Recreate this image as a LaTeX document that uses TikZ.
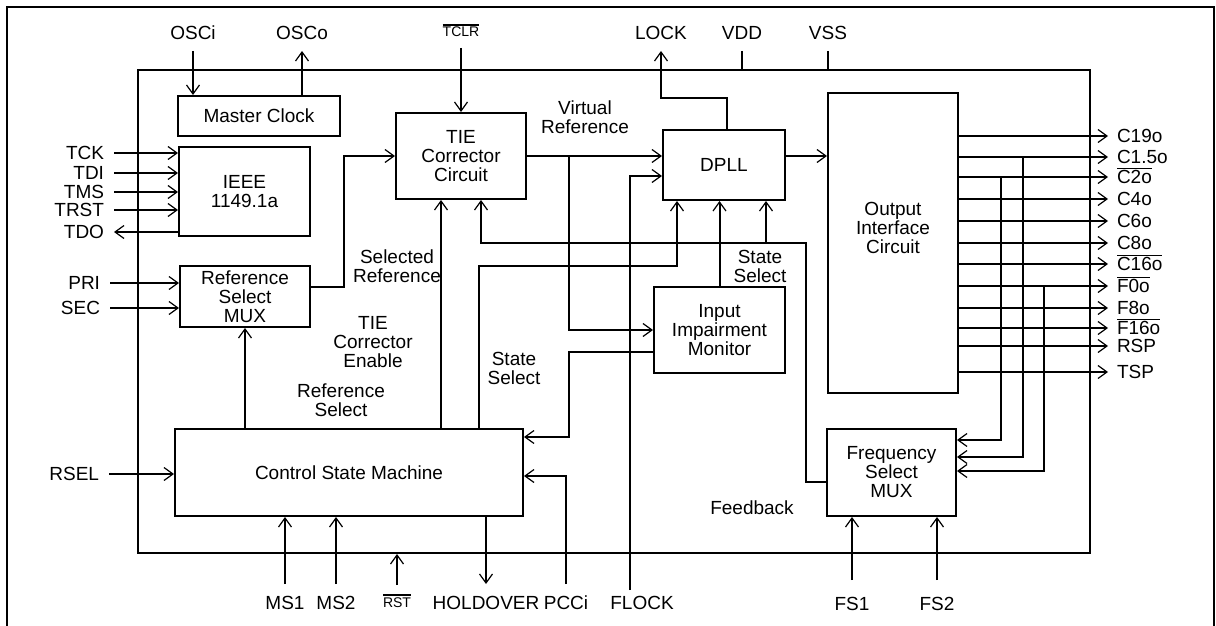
\documentclass[tikz,border=0pt]{standalone}
\usepackage{fontspec}
\setmainfont{Liberation Sans}
\usepackage{tikz}
\usetikzlibrary{arrows.meta}
\newcommand{\nbar}[1]{\leavevmode\vbox{\hrule height 1.6pt\kern1.4pt\hbox{#1}}}

\begin{document}
\begin{tikzpicture}[x=1pt,y=-1pt,
    font=\fontsize{19pt}{19pt}\selectfont,
    box/.style={draw=black,line width=2pt,align=center,inner sep=2pt},
    wire/.style={line width=2pt},
    sig/.style={line width=2pt,-{Straight Barb[length=9pt,width=13pt,line width=1.2pt]}},
    pinl/.style={anchor=east,inner sep=0pt,outer xsep=10pt,text height=13.6pt,text depth=0pt},
    pinr/.style={anchor=west,inner sep=0pt,outer xsep=9pt,text height=13.6pt,text depth=0pt},
    pint/.style={anchor=south,inner sep=0pt,outer ysep=11pt,text height=13.6pt,text depth=0pt},
    pinb/.style={anchor=north,inner sep=0pt,outer ysep=12pt,text height=13.6pt,text depth=0pt},
    small/.style={font=\fontsize{14pt}{14pt}\selectfont,text height=10pt},
    note/.style={align=center,inner sep=0pt}]
        \useasboundingbox (0,0) rectangle (1216,626);
        \draw[wire] (7,630) -- (7,7) -- (1214,7) -- (1214,630);

        \node[box,minimum width=952,minimum height=483] (chip) at (614,311.5) {};
        \node[box,minimum width=162,minimum height=40] (clk)  at (259,116)   {Master Clock};
        \node[box,minimum width=131,minimum height=89] (ieee) at (244.5,191.5) {IEEE\\1149.1a};
        \node[box,minimum width=130,minimum height=61] (rmux) at (245,296.5) {Reference\\Select\\MUX};
        \node[box,minimum width=130,minimum height=86] (tie)  at (461,156)   {TIE\\Corrector\\Circuit};
        \node[box,minimum width=122,minimum height=70] (dpll) at (724,165)   {DPLL};
        \node[box,minimum width=131,minimum height=86] (iim)  at (719.5,330) {Input\\Impairment\\Monitor};
        \node[box,minimum width=130,minimum height=300] (oic) at (893,243)   {};
        \node[note] (oict) at (893,228) {Output\\Interface\\Circuit};
        \node[box,minimum width=129,minimum height=87] (fmux) at (891.5,472.5) {Frequency\\Select\\MUX};
        \node[box,minimum width=348,minimum height=87] (csm)  at (349,472.5) {Control State Machine};

        % pins on top
        \node[pint] (osci) at (193,51) {OSCi};
        \node[pint] (osco) at (302,51) {OSCo};
        \node[pint,small] (tclr) at (461,48) {\nbar{TCLR}};
        \node[pint] (lock) at (661,51) {LOCK};
        \node[pint] (vdd)  at (742,51) {VDD};
        \node[pint] (vss)  at (828,51) {VSS};

        % pins on the left
        \node[pinl] (tck)  at (114,153) {TCK};
        \node[pinl] (tdi)  at (114,173) {TDI};
        \node[pinl] (tms)  at (114,192) {TMS};
        \node[pinl] (trst) at (114,210) {TRST};
        \node[pinl] (tdo)  at (114,232) {TDO};
        \node[pinl] (pri)  at (110,283) {PRI};
        \node[pinl] (sec)  at (110,308) {SEC};
        \node[pinl] (rsel) at (109,474) {RSEL};

        % pins on the right
        \node[pinr] (c19o) at (1108,136) {C19o};
        \node[pinr] (c15o) at (1108,157) {C1.5o};
        \node[pinr] (c2o)  at (1108,177) {\nbar{C2o}};
        \node[pinr] (c4o)  at (1108,199) {C4o};
        \node[pinr] (c6o)  at (1108,221) {C6o};
        \node[pinr] (c8o)  at (1108,243) {C8o};
        \node[pinr] (c16o) at (1108,264) {\nbar{C16o}};
        \node[pinr] (f0o)  at (1108,286) {\nbar{F0o}};
        \node[pinr] (f8o)  at (1108,308) {F8o};
        \node[pinr] (f16o) at (1108,328) {\nbar{F16o}};
        \node[pinr] (rsp)  at (1108,346) {RSP};
        \node[pinr] (tsp)  at (1108,372) {TSP};

        % pins at the bottom
        \node[pinb] (ms1)   at (285,584) {MS1};
        \node[pinb] (ms2)   at (336,584) {MS2};
        \node[pinb,small] (rst) at (397,585) {\nbar{RST}};
        \node[pinb] (hold)  at (486,584) {HOLDOVER};
        \node[pinb] (pcci)  at (566,584) {PCCi};
        \node[pinb] (flock) at (642,584) {FLOCK};
        \node[pinb,outer ysep=17pt] (fs1) at (852,580) {FS1};
        \node[pinb,outer ysep=17pt] (fs2) at (937,580) {FS2};

        % signal names
        \node[note] (vref) at (585,117.5) {Virtual\\Reference};
        \node[note] (sref) at (397,266.5) {Selected\\Reference};
        \node[note] (tien) at (373,342)   {TIE\\Corrector\\Enable};
        \node[note] (rsl)  at (341,400)   {Reference\\Select};
        \node[note] (ssl)  at (514,368)   {State\\Select};
        \node[note] (ssr)  at (760,266.5) {State\\Select};
        \node[note] (fbk)  at (752,508)   {Feedback};

        \coordinate (vr)  at (569,156);
        \coordinate (dq)  at ([yshift=9pt]dpll.east);
        \coordinate (flk) at (630,590);
        \coordinate (te)  at ([xshift=-20pt]tie.south);
        \coordinate (ssa) at (479,266);
        \coordinate (ssb) at (569,437);
        \coordinate (fb)  at (806,243);
        \coordinate (fbt) at (481,243);
        \coordinate (fbd) at (766,243);
        \coordinate (ba)  at (1001,177);
        \coordinate (bb)  at (1023,157);
        \coordinate (bc)  at (1044,286);

	\draw[sig] (osci) -- (osci |- clk.north);
	\draw[sig] (osco |- clk.north) -- (osco);
	\draw[sig] (tclr) -- (tclr |- tie.north);
	\draw[sig] ([xshift=3pt]dpll.north) -- ++(0,-31) -| (lock);
	\draw[wire] (vdd) -- (vdd |- chip.north);
	\draw[wire] (vss) -- (vss |- chip.north);

	\draw[sig] (tck) -- (tck -| ieee.west);
	\draw[sig] (tdi) -- (tdi -| ieee.west);
	\draw[sig] (tms) -- (tms -| ieee.west);
	\draw[sig] (trst) -- (trst -| ieee.west);
	\draw[sig] (tdo -| ieee.west) -- (tdo);
	\draw[sig] (pri) -- (pri -| rmux.west);
	\draw[sig] (sec) -- (sec -| rmux.west);
	\draw[sig] (rsel) -- (rsel -| csm.west);

	\draw[sig] ([yshift=9.5pt]rmux.east) -- ++(33,0) |- (tie.west);
	\draw[sig] (tie.east) -- (tie.east -| dpll.west);
	\draw[sig] (vr) |- (iim.west);
	\draw[sig] (flk) |- ([yshift=-11pt]dpll.west);
	\draw[sig] (dq) -- (dq -| oic.west);

	\draw[sig] (rmux.south |- csm.north) -- (rmux.south);
	\draw[sig] (te |- csm.north) -- (te);
	\draw[sig] (ssa |- csm.north) -- (ssa) -| ([xshift=-47pt]dpll.south);
	\draw[sig] (iim.north) -- (iim.north |- dpll.south);
	\draw[sig] ([yshift=-22pt]iim.west) -| (ssb) -- (ssb -| csm.east);
	\draw[sig] (pcci) |- ([yshift=-3.5pt]csm.east);
	\draw[sig] ([yshift=-9.5pt]fmux.west) -| (fb) -- (fbt) -- (fbt |- tie.south);
	\draw[sig] (fbd) -- (fbd |- dpll.south);

	\draw[sig] (ms1) -- (ms1 |- csm.south);
	\draw[sig] (ms2) -- (ms2 |- csm.south);
	\draw[sig] (rst) -- (rst |- chip.south);
	\draw[sig] (hold |- csm.south) -- (hold);
	\draw[sig] (fs1) -- (fs1 |- fmux.south);
	\draw[sig] (fs2) -- (fs2 |- fmux.south);

	\draw[sig] (c19o -| oic.east) -- (c19o);
	\draw[sig] (c15o -| oic.east) -- (c15o);
	\draw[sig] (c2o -| oic.east) -- (c2o);
	\draw[sig] (c4o -| oic.east) -- (c4o);
	\draw[sig] (c6o -| oic.east) -- (c6o);
	\draw[sig] (c8o -| oic.east) -- (c8o);
	\draw[sig] (c16o -| oic.east) -- (c16o);
	\draw[sig] (f0o -| oic.east) -- (f0o);
	\draw[sig] (f8o -| oic.east) -- (f8o);
	\draw[sig] (f16o -| oic.east) -- (f16o);
	\draw[sig] (rsp -| oic.east) -- (rsp);
	\draw[sig] (tsp -| oic.east) -- (tsp);

	\draw[sig] (ba) |- ([yshift=32.5pt]fmux.east);
	\draw[sig] (bb) |- ([yshift=15.5pt]fmux.east);
	\draw[sig] (bc) |- ([yshift=1.5pt]fmux.east);
\end{tikzpicture}
\end{document}
